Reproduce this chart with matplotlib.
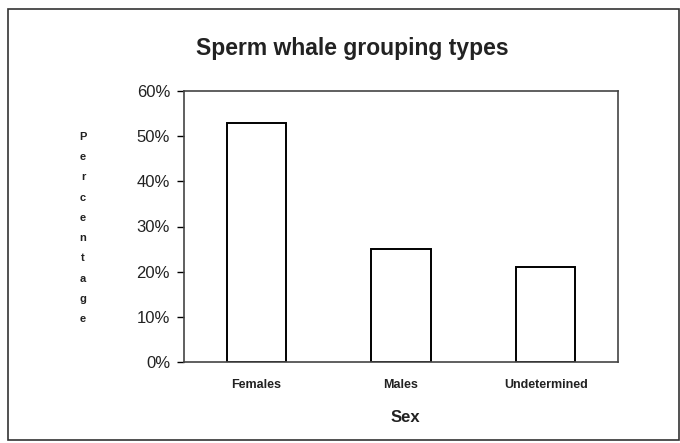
import matplotlib
import matplotlib.pyplot as plt
from matplotlib.patches import Rectangle
from matplotlib.ticker import PercentFormatter

matplotlib.use("Agg")

categories = ["Females", "Males", "Undetermined"]
percentages = [53, 25, 21]
y_ticks = [0, 10, 20, 30, 40, 50, 60]

plt.rcParams["font.family"] = ["Liberation Sans", "DejaVu Sans"]

W, H = 680, 443
fig = plt.figure(figsize=(W / 100, H / 100), dpi=100)

# outer chart border
fig.patches.append(Rectangle((8 / W, 1 - 440 / H), 671 / W, 431 / H,
                             transform=fig.transFigure, fill=False,
                             edgecolor="#333333", linewidth=1.2))

left, right, top, bottom = 184, 618, 91, 362
ax = fig.add_axes([left / W, 1 - bottom / H, (right - left) / W, (bottom - top) / H])

x = range(len(categories))
ax.bar(x, percentages, width=0.41, color="white", edgecolor="black", linewidth=1.4)

ax.set_xlim(-0.5, len(categories) - 0.5)
ax.set_ylim(0, 60)
ax.set_yticks(y_ticks)
ax.yaxis.set_major_formatter(PercentFormatter(decimals=0))
ax.set_xticks(list(x))
ax.set_xticklabels(categories, fontsize=9, fontweight="bold", color="#222222")
ax.tick_params(axis="x", length=0, pad=12)
ax.tick_params(axis="y", direction="out", length=5, width=1, labelsize=12,
               labelcolor="#222222", pad=5)
for s in ax.spines.values():
    s.set_color("#444444")
    s.set_linewidth(1.2)

fig.text(352 / W, 1 - 48 / H, "Sperm whale grouping types", ha="center", va="center",
         fontsize=16.5, fontweight="bold", color="#222222")
fig.text(405 / W, 1 - 417 / H, "Sex", ha="center", va="center",
         fontsize=12, fontweight="bold", color="#222222")
fig.text(83 / W, 1 - 228 / H, "\n".join("Percentage"), ha="center", va="center",
         fontsize=8, fontweight="bold", color="#222222", linespacing=2.28)

fig.savefig("out.png", dpi=100)
